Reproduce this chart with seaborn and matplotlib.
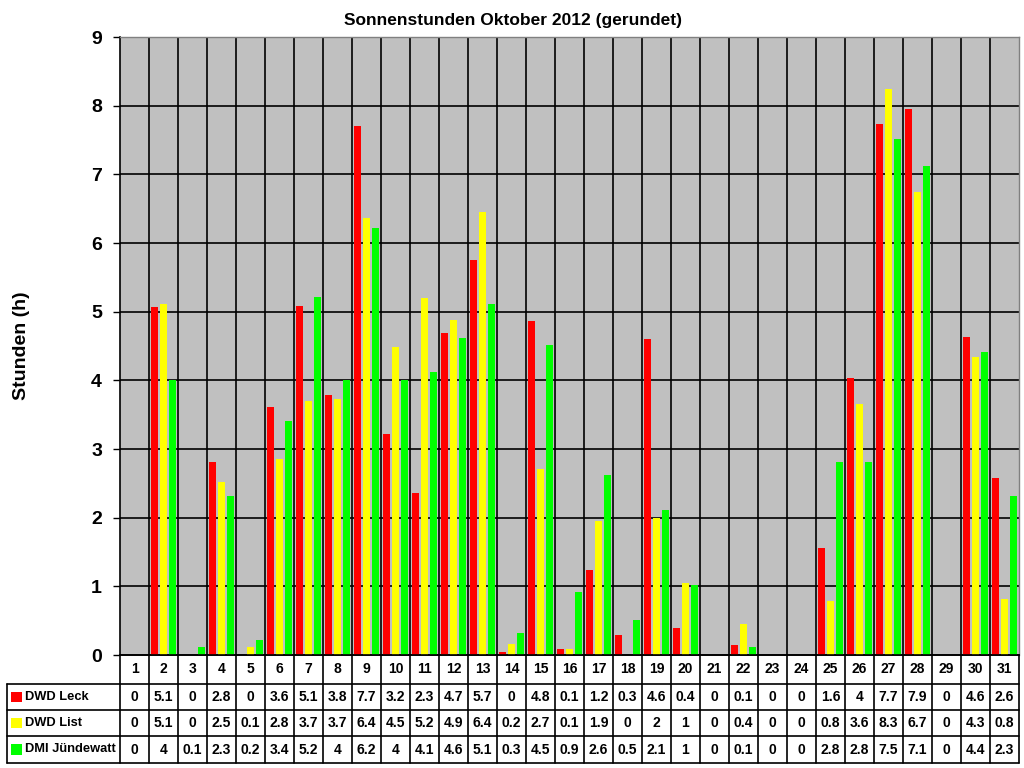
import matplotlib
matplotlib.use("Agg")
import matplotlib.pyplot as plt
import seaborn as sns
import pandas as pd
import numpy as np
from matplotlib.patches import Rectangle

# ---------------- data ----------------
days = [str(d) for d in range(1, 32)]
stations = ["DWD Leck", "DWD List", "DMI Jündewatt"]
colors = ["#FF0000", "#FFFF00", "#00FF00"]

leck = [0, 5.07, 0, 2.81, 0, 3.61, 5.08, 3.78, 7.70, 3.22, 2.36, 4.69, 5.75, 0.04, 4.86, 0.09,
        1.24, 0.29, 4.60, 0.39, 0, 0.15, 0, 0, 1.56, 4.03, 7.73, 7.95, 0, 4.63, 2.58]
list_ = [0, 5.11, 0, 2.52, 0.12, 2.85, 3.70, 3.73, 6.36, 4.48, 5.20, 4.88, 6.45, 0.16, 2.71, 0.09,
         1.95, 0, 1.99, 1.05, 0, 0.45, 0, 0, 0.79, 3.65, 8.25, 6.74, 0, 4.34, 0.82]
juende = [0, 4.0, 0.12, 2.31, 0.22, 3.41, 5.21, 4.0, 6.22, 4.0, 4.12, 4.61, 5.11, 0.32, 4.51, 0.92,
          2.62, 0.51, 2.11, 1.02, 0, 0.12, 0, 0, 2.81, 2.81, 7.51, 7.12, 0, 4.41, 2.31]

leck_txt = ["0", "5.1", "0", "2.8", "0", "3.6", "5.1", "3.8", "7.7", "3.2", "2.3", "4.7", "5.7", "0",
            "4.8", "0.1", "1.2", "0.3", "4.6", "0.4", "0", "0.1", "0", "0", "1.6", "4", "7.7", "7.9",
            "0", "4.6", "2.6"]
list_txt = ["0", "5.1", "0", "2.5", "0.1", "2.8", "3.7", "3.7", "6.4", "4.5", "5.2", "4.9", "6.4", "0.2",
            "2.7", "0.1", "1.9", "0", "2", "1", "0", "0.4", "0", "0", "0.8", "3.6", "8.3", "6.7",
            "0", "4.3", "0.8"]
juende_txt = ["0", "4", "0.1", "2.3", "0.2", "3.4", "5.2", "4", "6.2", "4", "4.1", "4.6", "5.1", "0.3",
              "4.5", "0.9", "2.6", "0.5", "2.1", "1", "0", "0.1", "0", "0", "2.8", "2.8", "7.5", "7.1",
              "0", "4.4", "2.3"]

title = "Sonnenstunden Oktober 2012 (gerundet)"
ylabel = "Stunden (h)"
yticks = list(range(0, 10))

df = pd.DataFrame({
    "Tag": days * 3,
    "Station": [stations[0]] * 31 + [stations[1]] * 31 + [stations[2]] * 31,
    "Stunden": leck + list_ + juende,
})

# ---------------- figure ----------------
sns.set_style("white")
plt.rcParams['font.family'] = ['Liberation Sans', 'DejaVu Sans']
plt.rcParams['text.color'] = 'black'
plt.rcParams['axes.labelcolor'] = 'black'
plt.rcParams['xtick.color'] = 'black'
plt.rcParams['ytick.color'] = 'black'

W, H = 1024, 768
fig = plt.figure(figsize=(W / 100, H / 100), dpi=100)
fig.patch.set_facecolor("white")

def px_box(x0, y0, x1, y1):
    return [x0 / W, 1 - y1 / H, (x1 - x0) / W, (y1 - y0) / H]

ax = fig.add_axes(px_box(120, 37, 1019, 655))
ax.set_facecolor("#C0C0C0")

sns.barplot(data=df, x="Tag", y="Stunden", hue="Station", order=days, hue_order=stations,
            palette=colors, width=0.95, gap=0.25, linewidth=0, saturation=1,
            errorbar=None, legend=False, ax=ax, zorder=3)

ax.set_xlim(-0.5, 30.5)
ax.set_ylim(0, 9)
ax.set_yticks(yticks)
ax.set_yticklabels([str(t) for t in yticks], fontsize=14, fontweight="bold", color="black")
ax.set_xticks([])
ax.set_xlabel("")
ax.set_ylabel("")

# gridlines
for t in yticks[1:]:
    ax.axhline(t, color="black", lw=1.2, zorder=1)
for k in range(1, 31):
    ax.axvline(k - 0.5, color="black", lw=1.2, zorder=1)

ax.tick_params(axis="y", direction="out", length=5, width=1, pad=8, left=True, colors="black")
for s in ["top", "right"]:
    ax.spines[s].set_color("#808080")
    ax.spines[s].set_linewidth(1)
for s in ["left", "bottom"]:
    ax.spines[s].set_color("black")
    ax.spines[s].set_linewidth(1.2)

fig.text(513 / W, 1 - 20 / H, title, ha="center", va="center", fontsize=12.5,
         fontweight="bold", color="black")
fig.text(22 / W, 1 - 346 / H, ylabel, ha="center", va="center", rotation=90,
         fontsize=14, fontweight="bold", color="black")

# ---------------- data table ----------------
tax = fig.add_axes(px_box(120, 655, 1019, 763))
tax.set_xlim(-0.5, 30.5)
tax.set_ylim(4, 0)
tax.axis("off")

col_w_px = (1019 - 120) / 31.0
left_x = -0.5 - (120 - 7) / col_w_px
row_y = [0, 1.07, 2.04, 3.0, 4.0]

lkw = dict(color="black", lw=1.2, clip_on=False)
for k in range(32):
    tax.plot([k - 0.5, k - 0.5], [0, 4], **lkw)
tax.plot([-0.5, 30.5], [0, 0], **lkw)
for r in row_y[1:]:
    tax.plot([left_x, 30.5], [r, r], **lkw)
tax.plot([left_x, left_x], [row_y[1], 4], **lkw)

for i, d in enumerate(days):
    tax.text(i, (row_y[0] + row_y[1]) / 2, d, ha="center", va="center",
             fontsize=10, fontweight="bold", color="black")

rows_txt = [leck_txt, list_txt, juende_txt]
sq_w = 11 / col_w_px
for r, (name, col, txts) in enumerate(zip(stations, colors, rows_txt)):
    yc = (row_y[r + 1] + row_y[r + 2]) / 2
    x_sq = left_x + 3.5 / col_w_px
    tax.add_patch(Rectangle((x_sq, yc - 0.2), sq_w, 0.4, facecolor=col, edgecolor="none",
                            clip_on=False))
    tax.text(left_x + 17.5 / col_w_px, yc, name, ha="left", va="center",
             fontsize=9.3, fontweight="bold", clip_on=False, color="black")
    for i, t in enumerate(txts):
        tax.text(i, yc, t, ha="center", va="center", fontsize=10, fontweight="bold",
                 color="black")

fig.savefig("out.png", dpi=100, facecolor="white")
